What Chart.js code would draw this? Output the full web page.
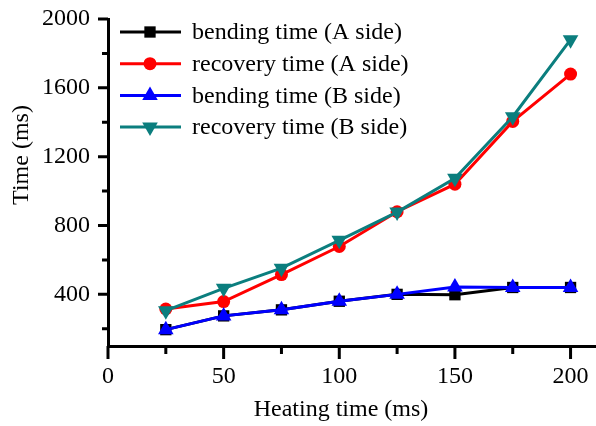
<!DOCTYPE html>
<html>
<head>
<meta charset="utf-8">
<script src="https://cdn.jsdelivr.net/npm/chart.js@4/dist/chart.umd.min.js"></script>
<style>
  body { margin: 0; background: #fff; }
  #wrap { width: 596px; height: 426px; position: relative; }
</style>
</head>
<body>
<div id="wrap"><canvas id="timeChart"></canvas></div>
<script>
// heating time (ms) on x, response times (ms) on y
const heatingTime = [25, 50, 75, 100, 125, 150, 175, 200];
const bendingA = [195, 275, 310, 360, 400, 398, 440, 440];
const recoveryA = [315, 358, 515, 678, 880, 1040, 1405, 1680];
const bendingB = [195, 275, 310, 360, 400, 443, 440, 440];
const recoveryB = [305, 435, 552, 714, 878, 1075, 1432, 1880];

const xMajor = [0, 50, 100, 150, 200];
const xMinor = [25, 75, 125, 175];
const yMajor = [400, 800, 1200, 1600, 2000];
const yMinor = [200, 600, 1000, 1400, 1800];

const seriesNames = ['bending time (A side)', 'recovery time (A side)', 'bending time (B side)', 'recovery time (B side)'];

const FONT = "'Liberation Serif', 'Times New Roman', serif";
const TEAL = '#0b7e7e';

function pts(ys) {
  return heatingTime.map((x, i) => ({ x: x, y: ys[i] }));
}

function marker(ctx, style, x, y, r, rot) {
  ctx.beginPath();
  if (style === 'rect') {
    const s = r * Math.SQRT1_2;
    ctx.rect(x - s, y - s, 2 * s, 2 * s);
  } else if (style === 'circle') {
    ctx.arc(x, y, r, 0, Math.PI * 2);
  } else {
    const dir = rot === 180 ? -1 : 1;
    for (let k = 0; k < 3; k++) {
      const a = k * 2 * Math.PI / 3;
      const px = x + Math.sin(a) * r;
      const py = y - dir * Math.cos(a) * r;
      if (k === 0) ctx.moveTo(px, py); else ctx.lineTo(px, py);
    }
    ctx.closePath();
  }
  ctx.fill();
}

// minor/major tick marks, axis titles and legend
const extras = {
  id: 'extras',
  afterDraw(chart) {
    const ctx = chart.ctx;
    const xs = chart.scales.x, ys = chart.scales.y;
    const area = chart.chartArea;
    ctx.save();
    ctx.strokeStyle = '#000';
    ctx.lineWidth = 3;
    ctx.lineCap = 'butt';
    ctx.beginPath();
    yMajor.forEach(v => { const p = ys.getPixelForValue(v); ctx.moveTo(area.left - 10, p); ctx.lineTo(area.left, p); });
    yMinor.forEach(v => { const p = ys.getPixelForValue(v); ctx.moveTo(area.left - 6, p); ctx.lineTo(area.left, p); });
    xMajor.forEach(v => { const p = xs.getPixelForValue(v); ctx.moveTo(p, area.bottom); ctx.lineTo(p, area.bottom + 13); });
    xMinor.forEach(v => { const p = xs.getPixelForValue(v); ctx.moveTo(p, area.bottom); ctx.lineTo(p, area.bottom + 8); });
    ctx.stroke();

    ctx.fillStyle = '#000';
    ctx.font = '24px ' + FONT;
    ctx.textAlign = 'center';
    ctx.textBaseline = 'middle';
    ctx.fillText('Heating time (ms)', 341, 410);
    ctx.save();
    ctx.translate(22, 155);
    ctx.rotate(-Math.PI / 2);
    ctx.fillText('Time (ms)', 0, 0);
    ctx.restore();

    // legend
    ctx.textAlign = 'left';
    chart.data.datasets.forEach((ds, i) => {
      const y = 32 + i * 31.7;
      ctx.strokeStyle = ds.borderColor;
      ctx.lineWidth = 3;
      ctx.beginPath();
      ctx.moveTo(120, y);
      ctx.lineTo(181, y);
      ctx.stroke();
      ctx.fillStyle = ds.backgroundColor;
      marker(ctx, ds.pointStyle, 150, y, ds.pointRadius, ds.pointRotation);
      ctx.fillStyle = '#000';
      ctx.fillText(seriesNames[i], 192, y + 1);
    });
    ctx.restore();
  }
};

new Chart(document.getElementById('timeChart'), {
  type: 'line',
  data: {
    datasets: [
      {
        label: seriesNames[0],
        data: pts(bendingA),
        borderColor: '#000000',
        backgroundColor: '#000000',
        pointStyle: 'rect',
        pointRadius: 8,
        pointRotation: 0,
        order: 3
      },
      {
        label: seriesNames[1],
        data: pts(recoveryA),
        borderColor: '#ff0000',
        backgroundColor: '#ff0000',
        pointStyle: 'circle',
        pointRadius: 6.5,
        pointRotation: 0,
        order: 2
      },
      {
        label: seriesNames[2],
        data: pts(bendingB),
        borderColor: '#0000ff',
        backgroundColor: '#0000ff',
        pointStyle: 'triangle',
        pointRadius: 9,
        pointRotation: 0,
        order: 1
      },
      {
        label: seriesNames[3],
        data: pts(recoveryB),
        borderColor: TEAL,
        backgroundColor: TEAL,
        pointStyle: 'triangle',
        pointRadius: 9,
        pointRotation: 180,
        order: 0
      }
    ]
  },
  options: {
    responsive: true,
    maintainAspectRatio: false,
    animation: false,
    layout: { autoPadding: false, padding: { top: 19, right: 0, bottom: 0, left: 0 } },
    elements: {
      line: { borderWidth: 3, tension: 0 },
      point: { borderWidth: 0, hoverRadius: 8 }
    },
    plugins: {
      legend: { display: false },
      tooltip: { enabled: false }
    },
    scales: {
      x: {
        type: 'linear',
        min: 0,
        max: 211,
        afterBuildTicks: s => { s.ticks = xMajor.map(v => ({ value: v })); },
        afterFit: s => { s.height = 80; s.paddingLeft = 0; s.paddingRight = 0; },
        grid: { drawOnChartArea: false, drawTicks: false },
        border: { display: true, color: '#000', width: 3 },
        ticks: { color: '#000', padding: 16, maxRotation: 0, font: { family: FONT, size: 24 }, callback: v => String(v) }
      },
      y: {
        min: 100,
        max: 2000,
        afterBuildTicks: s => { s.ticks = yMajor.map(v => ({ value: v })); },
        afterFit: s => { s.width = 108; s.paddingTop = 0; s.paddingBottom = 0; },
        grid: { drawOnChartArea: false, drawTicks: false },
        border: { display: true, color: '#000', width: 3 },
        ticks: { color: '#000', padding: 18, font: { family: FONT, size: 24 }, callback: v => String(v) }
      }
    }
  },
  plugins: [extras]
});
</script>
</body>
</html>
